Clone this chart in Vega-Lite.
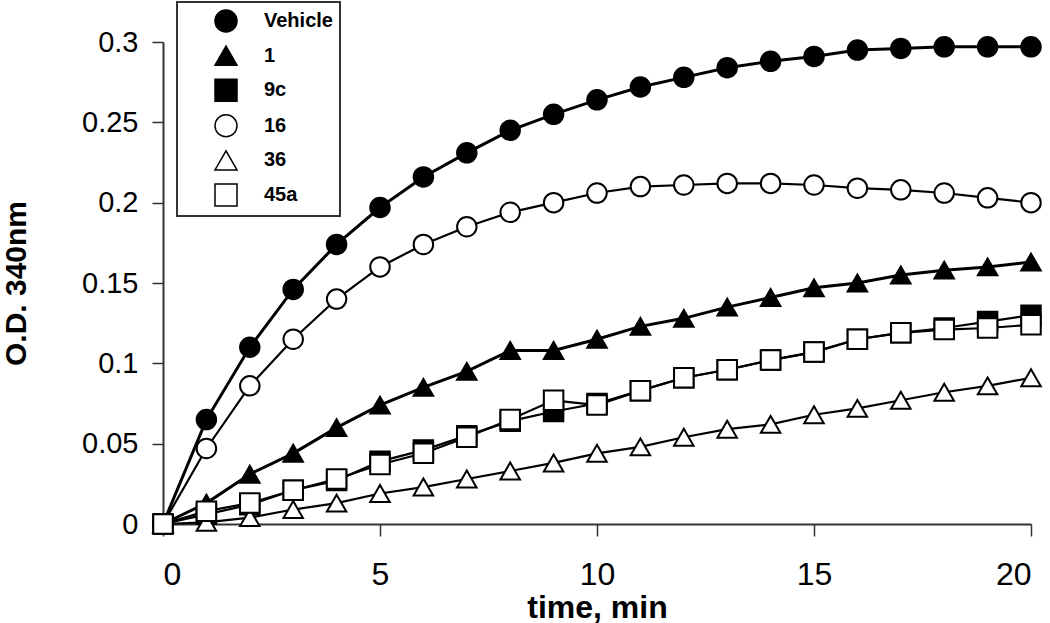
{
  "$schema": "https://vega.github.io/schema/vega-lite/v6.json",
  "width": 868,
  "height": 482,
  "autosize": {"type": "none"},
  "padding": {"left": 163, "top": 42, "right": 19, "bottom": 99},
  "background": "white",
  "config": {
    "view": {"stroke": null},
    "font": "Liberation Sans",
    "legend": {
      "orient": "none", "legendX": 14, "legendY": -40,
      "padding": 7, "strokeColor": "#333333", "fillColor": "white", "strokeWidth": 2,
      "symbolSize": 484, "symbolOffset": 30, "labelOffset": 26, "rowPadding": 7.6,
      "labelFont": "Liberation Sans", "labelFontWeight": "bold", "labelFontSize": 20, "labelColor": "black"
    }
  },
  "data": {
    "values": [
      {"t": 0, "series": "Vehicle", "od": 0}, {"t": 1, "series": "Vehicle", "od": 0.065}, {"t": 2, "series": "Vehicle", "od": 0.110}, {"t": 3, "series": "Vehicle", "od": 0.146}, {"t": 4, "series": "Vehicle", "od": 0.174}, {"t": 5, "series": "Vehicle", "od": 0.197}, {"t": 6, "series": "Vehicle", "od": 0.216}, {"t": 7, "series": "Vehicle", "od": 0.231}, {"t": 8, "series": "Vehicle", "od": 0.245}, {"t": 9, "series": "Vehicle", "od": 0.255}, {"t": 10, "series": "Vehicle", "od": 0.264}, {"t": 11, "series": "Vehicle", "od": 0.272}, {"t": 12, "series": "Vehicle", "od": 0.278}, {"t": 13, "series": "Vehicle", "od": 0.284}, {"t": 14, "series": "Vehicle", "od": 0.288}, {"t": 15, "series": "Vehicle", "od": 0.291}, {"t": 16, "series": "Vehicle", "od": 0.295}, {"t": 17, "series": "Vehicle", "od": 0.296}, {"t": 18, "series": "Vehicle", "od": 0.297}, {"t": 19, "series": "Vehicle", "od": 0.297}, {"t": 20, "series": "Vehicle", "od": 0.297},
      {"t": 0, "series": "1", "od": 0}, {"t": 1, "series": "1", "od": 0.013}, {"t": 2, "series": "1", "od": 0.031}, {"t": 3, "series": "1", "od": 0.044}, {"t": 4, "series": "1", "od": 0.060}, {"t": 5, "series": "1", "od": 0.074}, {"t": 6, "series": "1", "od": 0.085}, {"t": 7, "series": "1", "od": 0.095}, {"t": 8, "series": "1", "od": 0.108}, {"t": 9, "series": "1", "od": 0.108}, {"t": 10, "series": "1", "od": 0.115}, {"t": 11, "series": "1", "od": 0.123}, {"t": 12, "series": "1", "od": 0.128}, {"t": 13, "series": "1", "od": 0.135}, {"t": 14, "series": "1", "od": 0.141}, {"t": 15, "series": "1", "od": 0.147}, {"t": 16, "series": "1", "od": 0.150}, {"t": 17, "series": "1", "od": 0.155}, {"t": 18, "series": "1", "od": 0.158}, {"t": 19, "series": "1", "od": 0.160}, {"t": 20, "series": "1", "od": 0.163},
      {"t": 0, "series": "9c", "od": 0}, {"t": 1, "series": "9c", "od": 0.006}, {"t": 2, "series": "9c", "od": 0.012}, {"t": 3, "series": "9c", "od": 0.021}, {"t": 4, "series": "9c", "od": 0.027}, {"t": 5, "series": "9c", "od": 0.039}, {"t": 6, "series": "9c", "od": 0.046}, {"t": 7, "series": "9c", "od": 0.055}, {"t": 8, "series": "9c", "od": 0.064}, {"t": 9, "series": "9c", "od": 0.070}, {"t": 10, "series": "9c", "od": 0.075}, {"t": 11, "series": "9c", "od": 0.083}, {"t": 12, "series": "9c", "od": 0.091}, {"t": 13, "series": "9c", "od": 0.096}, {"t": 14, "series": "9c", "od": 0.102}, {"t": 15, "series": "9c", "od": 0.107}, {"t": 16, "series": "9c", "od": 0.115}, {"t": 17, "series": "9c", "od": 0.119}, {"t": 18, "series": "9c", "od": 0.122}, {"t": 19, "series": "9c", "od": 0.126}, {"t": 20, "series": "9c", "od": 0.130},
      {"t": 0, "series": "16", "od": 0}, {"t": 1, "series": "16", "od": 0.047}, {"t": 2, "series": "16", "od": 0.086}, {"t": 3, "series": "16", "od": 0.115}, {"t": 4, "series": "16", "od": 0.140}, {"t": 5, "series": "16", "od": 0.160}, {"t": 6, "series": "16", "od": 0.174}, {"t": 7, "series": "16", "od": 0.185}, {"t": 8, "series": "16", "od": 0.194}, {"t": 9, "series": "16", "od": 0.200}, {"t": 10, "series": "16", "od": 0.206}, {"t": 11, "series": "16", "od": 0.210}, {"t": 12, "series": "16", "od": 0.211}, {"t": 13, "series": "16", "od": 0.212}, {"t": 14, "series": "16", "od": 0.212}, {"t": 15, "series": "16", "od": 0.211}, {"t": 16, "series": "16", "od": 0.209}, {"t": 17, "series": "16", "od": 0.208}, {"t": 18, "series": "16", "od": 0.206}, {"t": 19, "series": "16", "od": 0.203}, {"t": 20, "series": "16", "od": 0.200},
      {"t": 0, "series": "36", "od": 0}, {"t": 1, "series": "36", "od": 0.001}, {"t": 2, "series": "36", "od": 0.004}, {"t": 3, "series": "36", "od": 0.009}, {"t": 4, "series": "36", "od": 0.013}, {"t": 5, "series": "36", "od": 0.019}, {"t": 6, "series": "36", "od": 0.023}, {"t": 7, "series": "36", "od": 0.028}, {"t": 8, "series": "36", "od": 0.033}, {"t": 9, "series": "36", "od": 0.038}, {"t": 10, "series": "36", "od": 0.044}, {"t": 11, "series": "36", "od": 0.048}, {"t": 12, "series": "36", "od": 0.054}, {"t": 13, "series": "36", "od": 0.059}, {"t": 14, "series": "36", "od": 0.062}, {"t": 15, "series": "36", "od": 0.068}, {"t": 16, "series": "36", "od": 0.072}, {"t": 17, "series": "36", "od": 0.077}, {"t": 18, "series": "36", "od": 0.082}, {"t": 19, "series": "36", "od": 0.086}, {"t": 20, "series": "36", "od": 0.091},
      {"t": 0, "series": "45a", "od": 0}, {"t": 1, "series": "45a", "od": 0.008}, {"t": 2, "series": "45a", "od": 0.013}, {"t": 3, "series": "45a", "od": 0.021}, {"t": 4, "series": "45a", "od": 0.028}, {"t": 5, "series": "45a", "od": 0.037}, {"t": 6, "series": "45a", "od": 0.044}, {"t": 7, "series": "45a", "od": 0.054}, {"t": 8, "series": "45a", "od": 0.065}, {"t": 9, "series": "45a", "od": 0.077}, {"t": 10, "series": "45a", "od": 0.074}, {"t": 11, "series": "45a", "od": 0.083}, {"t": 12, "series": "45a", "od": 0.091}, {"t": 13, "series": "45a", "od": 0.096}, {"t": 14, "series": "45a", "od": 0.102}, {"t": 15, "series": "45a", "od": 0.107}, {"t": 16, "series": "45a", "od": 0.115}, {"t": 17, "series": "45a", "od": 0.119}, {"t": 18, "series": "45a", "od": 0.121}, {"t": 19, "series": "45a", "od": 0.122}, {"t": 20, "series": "45a", "od": 0.124}
    ]
  },
  "encoding": {
    "x": {
      "field": "t", "type": "quantitative",
      "scale": {"domain": [0, 20], "nice": false, "zero": false},
      "axis": {
        "title": "time, min", "values": [0, 5, 10, 15, 20], "grid": false,
        "domainColor": "#333333", "domainWidth": 2, "tickColor": "#333333", "tickWidth": 1.5, "tickSize": 12,
        "labelFont": "Liberation Sans", "labelFontSize": 32, "labelColor": "black", "labelPadding": 23,
        "titleFont": "Liberation Sans", "titleFontWeight": "bold", "titleFontSize": 32, "titleColor": "black", "titlePadding": 2
      }
    },
    "y": {
      "field": "od", "type": "quantitative",
      "scale": {"domain": [0, 0.3], "nice": false},
      "axis": {
        "title": "O.D. 340nm", "values": [0, 0.05, 0.1, 0.15, 0.2, 0.25, 0.3], "format": "~g", "grid": false,
        "domainColor": "#333333", "domainWidth": 2, "tickColor": "#333333", "tickWidth": 1.5, "tickSize": 11,
        "labelFont": "Liberation Sans", "labelFontSize": 29, "labelColor": "black", "labelPadding": 14,
        "titleFont": "Liberation Sans", "titleFontWeight": "bold", "titleFontSize": 30, "titleColor": "black", "titlePadding": 50
      }
    }
  },
  "layer": [
    {
      "transform": [{"filter": {"field": "series", "oneOf": ["Vehicle", "1"]}}],
      "mark": {"type": "line", "color": "black", "strokeWidth": 3},
      "encoding": {
        "detail": {"field": "series"}
      }
    },
    {
      "transform": [{"filter": {"field": "series", "oneOf": ["9c", "16", "36", "45a"]}}],
      "mark": {"type": "line", "color": "black", "strokeWidth": 2.2},
      "encoding": {
        "detail": {"field": "series"}
      }
    },
    {
      "mark": {"type": "point", "filled": true, "stroke": "black", "strokeWidth": 2, "size": 380, "opacity": 1},
      "encoding": {
        "shape": {
          "field": "series", "type": "nominal", "title": null,
          "scale": {"domain": ["Vehicle", "1", "9c", "16", "36", "45a"], "range": ["circle", "triangle-up", "square", "circle", "triangle-up", "square"]},
          "legend": {
            "encode": {
              "symbols": {
                "shape": {"value": {"expr": "indexof(['Vehicle','16'], datum.value) >= 0 ? 'M-2.9,0H-0.6M0.6,0H2.9M0.6,0A0.6,0.6 0 1,1 -0.6,0A0.6,0.6 0 1,1 0.6,0Z' : (indexof(['1','36'], datum.value) >= 0 ? 'M-2.9,0H-0.33M0.33,0H2.9M0,-0.6L0.65,0.55L-0.65,0.55Z' : 'M-2.9,0H-0.5M0.5,0H2.9M-0.5,-0.5H0.5V0.5H-0.5Z')"}},
                "stroke": {"value": "black"},
                "strokeWidth": {"value": 1.6}
              }
            }
          }
        },
        "fill": {
          "field": "series", "type": "nominal", "title": null,
          "scale": {"domain": ["Vehicle", "1", "9c", "16", "36", "45a"], "range": ["black", "black", "black", "white", "white", "white"]},
          "legend": {
            "encode": {
              "symbols": {
                "shape": {"value": {"expr": "indexof(['Vehicle','16'], datum.value) >= 0 ? 'M-2.9,0H-0.6M0.6,0H2.9M0.6,0A0.6,0.6 0 1,1 -0.6,0A0.6,0.6 0 1,1 0.6,0Z' : (indexof(['1','36'], datum.value) >= 0 ? 'M-2.9,0H-0.33M0.33,0H2.9M0,-0.6L0.65,0.55L-0.65,0.55Z' : 'M-2.9,0H-0.5M0.5,0H2.9M-0.5,-0.5H0.5V0.5H-0.5Z')"}},
                "stroke": {"value": "black"},
                "strokeWidth": {"value": 1.6}
              }
            }
          }
        }
      }
    }
  ]
}
